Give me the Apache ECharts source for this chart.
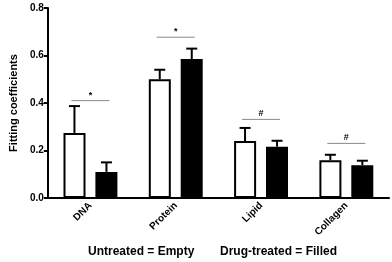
<!DOCTYPE html>
<html><head><meta charset="utf-8">
<script src="https://cdn.jsdelivr.net/npm/echarts@6/dist/echarts.min.js"></script>
<style>html,body{margin:0;padding:0;background:#fff}#c{width:392px;height:262px}</style>
</head><body><div id="c"></div>
<script>
const categories = ['DNA', 'Protein', 'Lipid', 'Collagen'];
const untreated = [0.274, 0.50, 0.24, 0.159];
const untreatedErr = [0.113, 0.04, 0.055, 0.023];
const treated = [0.11, 0.585, 0.216, 0.138];
const treatedErr = [0.04, 0.044, 0.025, 0.019];
const yTicks = [0, 0.2, 0.4, 0.6, 0.8];
// significance annotations: [category index, y level, symbol]
const sigMarks = [[0, 0.41, '*'], [1, 0.677, '*'], [2, 0.331, '#'], [3, 0.23, '#']];

const FONT = 'Liberation Sans, Arial, sans-serif';
const BAR_W = 22;
const OFFSET = 16;

function errSeries(vals, errs, sign) {
  return {
    type: 'custom',
    xAxisIndex: 0,
    z: 5,
    data: vals.map((v, i) => [i, v, v + errs[i]]),
    renderItem: function (params, api) {
      const p0 = api.coord([api.value(0), api.value(1)]);
      const p1 = api.coord([api.value(0), api.value(2)]);
      const x = p0[0] + sign * OFFSET;
      return {
        type: 'group',
        children: [
          { type: 'line', shape: { x1: x, y1: p0[1], x2: x, y2: p1[1] }, style: { stroke: '#000', lineWidth: 2 } },
          { type: 'line', shape: { x1: x - 5.5, y1: p1[1], x2: x + 5.5, y2: p1[1] }, style: { stroke: '#000', lineWidth: 2 } }
        ]
      };
    }
  };
}

const chart = echarts.init(document.getElementById('c'));
chart.setOption({
  animation: false,
  grid: { left: 40, right: 3, top: 8, bottom: 64 },
  xAxis: [{
    type: 'category',
    data: categories,
    axisLine: { lineStyle: { color: '#000', width: 2 } },
    axisTick: { alignWithLabel: true, length: 4, lineStyle: { color: '#000', width: 2 } },
    axisLabel: { rotate: 45, color: '#000', fontWeight: 'bold', fontSize: 10, fontFamily: FONT, margin: 6 }
  }, {
    type: 'value', min: 0, max: 4, show: false
  }],
  yAxis: {
    type: 'value', min: 0, max: 0.8, interval: 0.2,
    name: 'Fitting coefficients', nameLocation: 'middle', nameGap: 27,
    nameTextStyle: { color: '#000', fontWeight: 'bold', fontSize: 11, fontFamily: FONT },
    axisLine: { show: true, lineStyle: { color: '#000', width: 2 } },
    axisTick: { show: true, length: 4, lineStyle: { color: '#000', width: 2 } },
    splitLine: { show: false },
    axisLabel: { color: '#000', fontWeight: 'bold', fontSize: 10, fontFamily: FONT, margin: 4,
      formatter: v => v.toFixed(1) }
  },
  series: [
    { type: 'bar', data: untreated, barWidth: BAR_W, barGap: '45%',
      itemStyle: { color: '#fff', borderColor: '#000', borderWidth: 2 } },
    { type: 'bar', data: treated, barWidth: BAR_W,
      itemStyle: { color: '#000', borderColor: '#000', borderWidth: 2 } },
    errSeries(untreated, untreatedErr, -1),
    errSeries(treated, treatedErr, 1),
    {
      type: 'custom', xAxisIndex: 1, z: 6,
      data: sigMarks.map(m => [m[0] + 0.5, m[1], m[2]]),
      renderItem: function (params, api) {
        const c = api.coord([api.value(0), api.value(1)]);
        const sym = sigMarks[params.dataIndex][2];
        return {
          type: 'group',
          children: [
            { type: 'line', shape: { x1: c[0] - 19, y1: c[1], x2: c[0] + 19, y2: c[1] }, style: { stroke: '#888', lineWidth: 1 } },
            { type: 'text', style: { text: sym, x: c[0], y: c[1] - 1, textAlign: 'center', textVerticalAlign: 'bottom',
              fill: '#000', font: 'bold 9px ' + FONT } }
          ]
        };
      }
    }
  ],
  graphic: [
    { type: 'text', left: 88, top: 246, style: { text: 'Untreated = Empty', fill: '#000', font: 'bold 12px ' + FONT } },
    { type: 'text', left: 220, top: 246, style: { text: 'Drug-treated = Filled', fill: '#000', font: 'bold 12px ' + FONT } }
  ]
});
</script></body></html>
